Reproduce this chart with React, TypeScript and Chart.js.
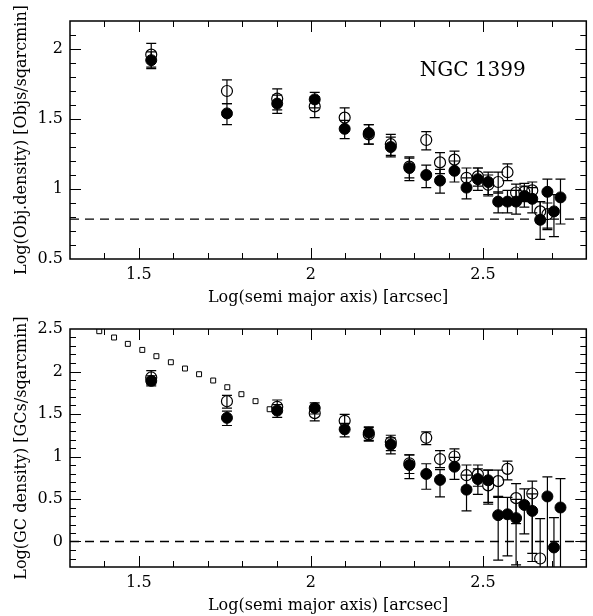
import React, { useEffect, useRef } from 'react';
import { Chart, registerables } from 'chart.js';

Chart.register(...registerables);

// ---- shared radii (log semi-major axis, arcsec) ----
const radii = [1.536, 1.756, 1.902, 2.011, 2.098, 2.168, 2.232, 2.286, 2.335, 2.375, 2.417, 2.452, 2.485, 2.515, 2.544, 2.571, 2.596, 2.62, 2.643, 2.666, 2.687, 2.706, 2.725];

// ---- top panel: object density ----
const topFilledY = [1.92, 1.54, 1.61, 1.64, 1.43, 1.40, 1.30, 1.15, 1.10, 1.06, 1.13, 1.01, 1.07, 1.05, 0.91, 0.91, 0.91, 0.95, 0.93, 0.78, 0.98, 0.84, 0.94];
const topFilledUp = [0.06, 0.07, 0.06, 0.05, 0.06, 0.06, 0.07, 0.07, 0.07, 0.08, 0.07, 0.07, 0.08, 0.07, 0.07, 0.08, 0.08, 0.07, 0.08, 0.13, 0.09, 0.12, 0.13];
const topFilledDown = [0.06, 0.08, 0.07, 0.06, 0.07, 0.08, 0.07, 0.09, 0.09, 0.09, 0.08, 0.08, 0.08, 0.09, 0.08, 0.08, 0.09, 0.08, 0.1, 0.14, 0.27, 0.18, 0.19];
const topOpenY = [1.96, 1.70, 1.645, 1.59, 1.51, 1.39, 1.32, 1.16, 1.35, 1.19, 1.21, 1.08, 1.09, 1.03, 1.05, 1.12, 0.975, 0.98, 0.99, 0.84, 0.82];
const topOpenUp = [0.08, 0.08, 0.07, 0.07, 0.07, 0.07, 0.07, 0.07, 0.06, 0.07, 0.06, 0.07, 0.06, 0.07, 0.07, 0.06, 0.06, 0.06, 0.06, 0.07, 0.08];
const topOpenDown = [0.09, 0.09, 0.08, 0.08, 0.07, 0.07, 0.08, 0.08, 0.07, 0.08, 0.07, 0.08, 0.07, 0.08, 0.08, 0.06, 0.07, 0.07, 0.07, 0.08, 0.1];
const topBackground = 0.785;

// ---- bottom panel: GC density ----
const botFilledY = [1.89, 1.455, 1.54, 1.57, 1.32, 1.28, 1.14, 0.90, 0.795, 0.725, 0.88, 0.61, 0.735, 0.72, 0.31, 0.32, 0.275, 0.43, 0.36, null, 0.53, -0.07, 0.40];
const botFilledUp = [0.06, 0.08, 0.07, 0.06, 0.07, 0.07, 0.08, 0.12, 0.12, 0.12, 0.11, 0.17, 0.12, 0.12, 0.21, 0.2, 0.22, 0.19, 0.2, 0, 0.23, 0.35, 0.34];
const botFilledDown = [0.06, 0.09, 0.08, 0.07, 0.09, 0.09, 0.11, 0.16, 0.18, 0.2, 0.15, 0.25, 0.18, 0.28, 0.53, 0.49, 0.55, 0.34, 0.5, 0, 0.9, 0.5, 0.9];
const botOpenY = [1.93, 1.65, 1.585, 1.51, 1.42, 1.26, 1.17, 0.92, 1.22, 0.97, 1.0, 0.78, 0.79, 0.66, 0.71, 0.855, 0.51, null, 0.565, -0.2];
const botOpenUp = [0.08, 0.07, 0.08, 0.07, 0.075, 0.08, 0.08, 0.1, 0.07, 0.1, 0.09, 0.12, 0.11, 0.18, 0.13, 0.09, 0.17, 0, 0.145, 0.47];
const botOpenDown = [0.08, 0.08, 0.07, 0.09, 0.08, 0.08, 0.1, 0.12, 0.08, 0.1, 0.1, 0.14, 0.14, 0.2, 0.18, 0.13, 0.3, 0, 0.8, 0.5];
const profileX = [1.385, 1.428, 1.468, 1.51, 1.551, 1.593, 1.634, 1.675, 1.716, 1.757, 1.798, 1.839, 1.88];
const profileY = [2.474, 2.40, 2.325, 2.254, 2.18, 2.109, 2.035, 1.968, 1.894, 1.815, 1.733, 1.651, 1.556];
const botBackground = 0;

const xRange = [1.3, 2.8];
const topYRange = [0.5, 2.2];
const botYRange = [-0.3, 2.5];
const xTitle = 'Log(semi major axis) [arcsec]';
const topYTitle = 'Log(Obj.density) [Objs/sqarcmin]';
const botYTitle = 'Log(GC density) [GCs/sqarcmin]';
const topLabel = 'NGC 1399';

const FONT = "'DejaVu Serif', serif";

const isMajor = (v: number) => Math.abs(v / 0.5 - Math.round(v / 0.5)) < 1e-6;

const pts = (xs: number[], ys: (number | null)[]) =>
  ys.map((y, i) => ({ x: xs[i], y })).filter((p) => p.y !== null) as { x: number; y: number }[];
const errs = (ys: (number | null)[], arr: number[]) =>
  ys.map((y, i) => ({ y, e: arr[i] })).filter((p) => p.y !== null).map((p) => p.e);

const frameTicks = {
  id: 'frameTicks',
  afterDraw(chart: any) {
    const { ctx, chartArea, scales } = chart;
    const { left, right, top, bottom } = chartArea;
    ctx.save();
    ctx.strokeStyle = '#000';
    ctx.lineWidth = 1;
    ctx.beginPath();
    scales.x.ticks.forEach((t: any) => {
      const px = Math.round(scales.x.getPixelForValue(t.value)) + 0.5;
      if (px <= left + 1 || px >= right - 1) return;
      const len = isMajor(t.value) ? 11 : 6;
      ctx.moveTo(px, bottom);
      ctx.lineTo(px, bottom - len);
      ctx.moveTo(px, top);
      ctx.lineTo(px, top + len);
    });
    scales.y.ticks.forEach((t: any) => {
      const py = Math.round(scales.y.getPixelForValue(t.value)) + 0.5;
      if (py <= top + 1 || py >= bottom - 1) return;
      const len = isMajor(t.value) ? 11 : 6;
      ctx.moveTo(left, py);
      ctx.lineTo(left + len, py);
      ctx.moveTo(right, py);
      ctx.lineTo(right - len, py);
    });
    ctx.stroke();
    ctx.lineWidth = 1.5;
    ctx.strokeRect(left, top, right - left, bottom - top);
    ctx.restore();
  },
};

const errorBars = {
  id: 'errorBars',
  afterDatasetsDraw(chart: any) {
    const { ctx, chartArea, scales } = chart;
    ctx.save();
    ctx.beginPath();
    ctx.rect(chartArea.left, chartArea.top, chartArea.right - chartArea.left, chartArea.bottom - chartArea.top);
    ctx.clip();
    ctx.strokeStyle = '#000';
    ctx.lineWidth = 1.2;
    chart.data.datasets.forEach((ds: any) => {
      if (!ds.errUp) return;
      ds.data.forEach((p: any, j: number) => {
        const x = scales.x.getPixelForValue(p.x);
        const yT = scales.y.getPixelForValue(p.y + ds.errUp[j]);
        const yB = scales.y.getPixelForValue(p.y - ds.errDown[j]);
        ctx.beginPath();
        ctx.moveTo(x, yT);
        ctx.lineTo(x, yB);
        ctx.moveTo(x - 5, yT);
        ctx.lineTo(x + 5, yT);
        ctx.moveTo(x - 5, yB);
        ctx.lineTo(x + 5, yB);
        ctx.stroke();
      });
    });
    ctx.restore();
  },
};

const textLabel = {
  id: 'textLabel',
  afterDraw(chart: any) {
    const opts = chart.options.plugins.textLabel;
    if (!opts || !opts.text) return;
    const { ctx, scales } = chart;
    ctx.save();
    ctx.font = `20px ${FONT}`;
    ctx.fillStyle = '#000';
    ctx.textAlign = 'center';
    ctx.textBaseline = 'middle';
    ctx.fillText(opts.text, scales.x.getPixelForValue(opts.x), scales.y.getPixelForValue(opts.y));
    ctx.restore();
  },
};

function makeConfig(datasets: any[], yRange: number[], yTitle: string, label?: any) {
  return {
    type: 'scatter',
    data: { datasets },
    options: {
      responsive: false,
      animation: false,
      events: [],
      layout: { padding: { top: 21, right: 2, left: 0, bottom: 0 } },
      plugins: { legend: { display: false }, tooltip: { enabled: false }, textLabel: label || {} },
      scales: {
        x: {
          type: 'linear',
          min: xRange[0],
          max: xRange[1],
          grid: { display: false, drawTicks: false },
          border: { display: false },
          ticks: {
            stepSize: 0.1,
            autoSkip: false,
            maxRotation: 0,
            padding: 6,
            color: '#000',
            font: { family: FONT, size: 16 },
            callback: (v: number) => (isMajor(v) ? String(Math.round(v * 10) / 10) : ''),
          },
          title: { display: true, text: xTitle, color: '#000', font: { family: FONT, size: 16 }, padding: { top: 0, bottom: 1 } },
          afterFit: (s: any) => { s.height = 49; },
        },
        y: {
          type: 'linear',
          min: yRange[0],
          max: yRange[1],
          grid: { display: false, drawTicks: false },
          border: { display: false },
          ticks: {
            stepSize: 0.1,
            autoSkip: false,
            padding: 7,
            color: '#000',
            font: { family: FONT, size: 16 },
            callback: (v: number) => (isMajor(v) ? String(Math.round(v * 10) / 10) : ''),
          },
          title: { display: true, text: yTitle, color: '#000', font: { family: FONT, size: 16 }, padding: { top: 12, bottom: 0 } },
          afterFit: (s: any) => { s.width = 70; },
        },
      },
    },
    plugins: [errorBars, frameTicks, textLabel],
  };
}

function dashed(y: number) {
  return {
    type: 'line',
    data: [{ x: xRange[0], y }, { x: xRange[1], y }],
    borderColor: '#000',
    borderWidth: 1.3,
    borderDash: [9, 6],
    pointRadius: 0,
    showLine: true,
    fill: false,
  };
}

function filledSet(ys: (number | null)[], up: number[], down: number[]) {
  return {
    data: pts(radii, ys),
    errUp: errs(ys, up),
    errDown: errs(ys, down),
    pointStyle: 'circle',
    pointRadius: 5.5,
    backgroundColor: '#000',
    borderColor: '#000',
    borderWidth: 1,
  };
}

function openSet(ys: (number | null)[], up: number[], down: number[]) {
  return {
    data: pts(radii, ys),
    errUp: errs(ys, up),
    errDown: errs(ys, down),
    pointStyle: 'circle',
    pointRadius: 5.5,
    backgroundColor: 'rgba(0,0,0,0)',
    borderColor: '#000',
    borderWidth: 1.2,
  };
}

export default function App() {
  const topRef = useRef<HTMLCanvasElement>(null);
  const botRef = useRef<HTMLCanvasElement>(null);

  useEffect(() => {
    const top = new Chart(
      topRef.current as HTMLCanvasElement,
      makeConfig(
        [dashed(topBackground), openSet(topOpenY, topOpenUp, topOpenDown), filledSet(topFilledY, topFilledUp, topFilledDown)],
        topYRange,
        topYTitle,
        { text: topLabel, x: 2.47, y: 1.845 }
      ) as any
    );
    const bot = new Chart(
      botRef.current as HTMLCanvasElement,
      makeConfig(
        [
          dashed(botBackground),
          {
            data: pts(profileX, profileY),
            pointStyle: 'rect',
            pointRadius: 3.5,
            backgroundColor: 'rgba(0,0,0,0)',
            borderColor: '#000',
            borderWidth: 1,
          },
          openSet(botOpenY, botOpenUp, botOpenDown),
          filledSet(botFilledY, botFilledUp, botFilledDown),
        ],
        botYRange,
        botYTitle
      ) as any
    );
    return () => {
      top.destroy();
      bot.destroy();
    };
  }, []);

  return (
    <div style={{ position: 'fixed', left: 0, top: 0, width: 593, height: 616, background: '#fff' }}>
      <canvas ref={topRef} width={593} height={308} style={{ display: 'block' }} />
      <canvas ref={botRef} width={593} height={308} style={{ display: 'block' }} />
    </div>
  );
}
